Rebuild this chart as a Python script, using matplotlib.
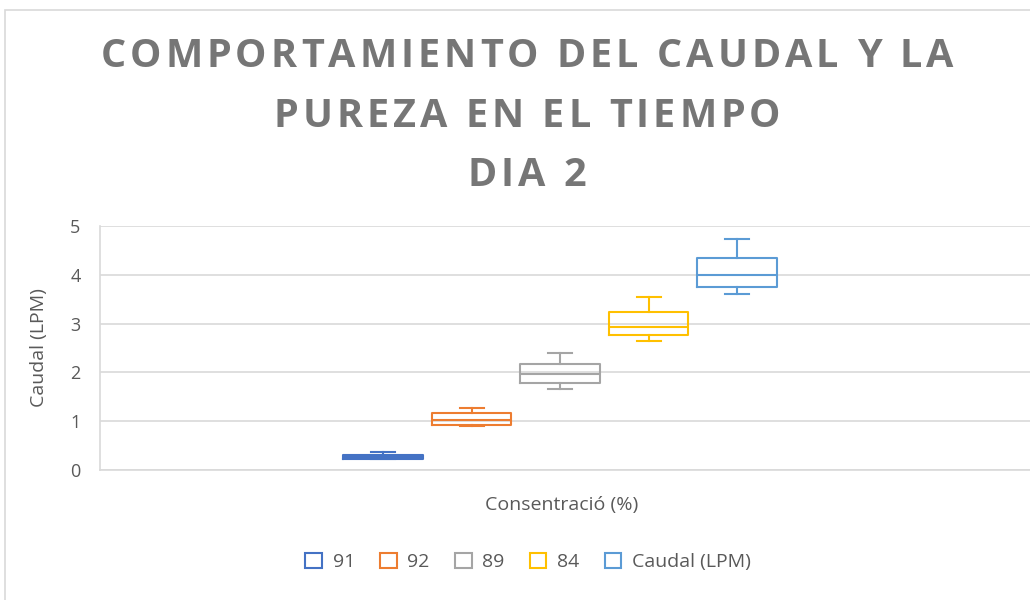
import matplotlib
matplotlib.use('Agg')
from matplotlib import pyplot as plt
from matplotlib.patches import Patch, Rectangle
from matplotlib.font_manager import FontProperties

# box-and-whisker summaries per series
series = ['91', '92', '89', '84', 'Caudal (LPM)']
colors = ['#4472C4', '#ED7D31', '#A5A5A5', '#FFC000', '#5B9BD5']
whislo = [0.22, 0.90, 1.65, 2.64, 3.60]
q1 = [0.23, 0.93, 1.79, 2.77, 3.74]
med = [0.27, 1.02, 1.96, 2.94, 4.00]
q3 = [0.30, 1.16, 2.17, 3.24, 4.35]
whishi = [0.36, 1.28, 2.40, 3.55, 4.73]
yticks = [0, 1, 2, 3, 4, 5]

title_lines = ['COMPORTAMIENTO DEL CAUDAL Y LA', 'PUREZA EN EL TIEMPO', 'DIA 2']

W, H = 1030, 600
plt.rcParams['font.family'] = ['Open Sans', 'DejaVu Sans']

fig = plt.figure(figsize=(W / 100, H / 100), dpi=100)
fig.patch.set_facecolor('white')

# light chart frame
fig.patches.append(Rectangle((5 / W, -0.1), 1.2, 1 - 10 / H + 0.1, transform=fig.transFigure,
                             fill=False, edgecolor='#D9D9D9', lw=1.2))

ax = fig.add_axes([100 / W, 130 / H, 930 / W, 244 / H])

stats = []
for i, name in enumerate(series):
    stats.append(dict(label=name, whislo=whislo[i], q1=q1[i], med=med[i],
                      q3=q3[i], whishi=whishi[i], fliers=[]))

positions = list(range(1, len(series) + 1))
bp = ax.bxp(stats, positions=positions, widths=0.9, capwidths=0.27,
            showfliers=False, patch_artist=False)
for i, c in enumerate(colors):
    lw = 1.5
    bp['boxes'][i].set(color=c, lw=lw)
    bp['medians'][i].set(color=c, lw=lw)
    for j in (2 * i, 2 * i + 1):
        bp['whiskers'][j].set(color=c, lw=lw)
        bp['caps'][j].set(color=c, lw=lw)

ax.set_xlim(-2.2, 8.31)
ax.set_ylim(0, 5)
ax.set_yticks(yticks)
ax.set_xticks([])
ax.yaxis.grid(True, color='#D9D9D9', lw=1.2)
ax.set_axisbelow(True)
for s in ('top', 'right'):
    ax.spines[s].set_visible(False)
ax.spines['left'].set_color('#D9D9D9')
ax.spines['bottom'].set_color('#D9D9D9')
ax.spines['left'].set_linewidth(1.2)
ax.spines['bottom'].set_linewidth(1.2)
ax.tick_params(axis='y', length=0, pad=14, labelsize=13, labelcolor='#595959')
ax.set_ylabel('Caudal (LPM)', fontsize=14, color='#595959')
ax.yaxis.set_label_coords(-52 / 930, 0.5)
ax.set_xlabel('Consentració (%)', fontsize=14, color='#595959')
ax.xaxis.set_label_coords(462 / 930, -26 / 244)

# legend with hollow squares
handles = [Patch(facecolor='none', edgecolor=c, lw=1.5, label=n) for n, c in zip(series, colors)]
fig.legend(handles=handles, loc='center', bbox_to_anchor=(528 / W, 1 - 562 / H), ncol=5,
           frameon=False, fontsize=14, handlelength=0.85, handleheight=0.85,
           handletextpad=0.55, columnspacing=1.3, labelcolor='#595959')

# letter-spaced title drawn character by character
renderer = fig.canvas.get_renderer()
prop = FontProperties(family='Open Sans', weight='bold', size=28.5)


def text_width(s):
    return renderer.get_text_width_height_descent(s, prop, ismath=False)[0]


def char_widths(line):
    ws = []
    for ch in line:
        if ch == ' ':
            ws.append(text_width('A A') - text_width('AA'))
        else:
            ws.append(text_width('H' + ch + 'H') - text_width('HH'))
    return ws


w0 = char_widths(title_lines[0])
tracking = (853 - sum(w0)) / (len(title_lines[0]) - 1)
baselines = [67, 127, 186]
cx = 527
for line, base in zip(title_lines, baselines):
    ws = char_widths(line)
    total = sum(ws) + tracking * (len(line) - 1)
    x = cx - total / 2
    for ch, w in zip(line, ws):
        if ch != ' ':
            fig.text(x / W, 1 - base / H, ch, fontproperties=prop, color='#767676',
                     ha='left', va='baseline')
        x += w + tracking

fig.savefig('out.png', dpi=100)
